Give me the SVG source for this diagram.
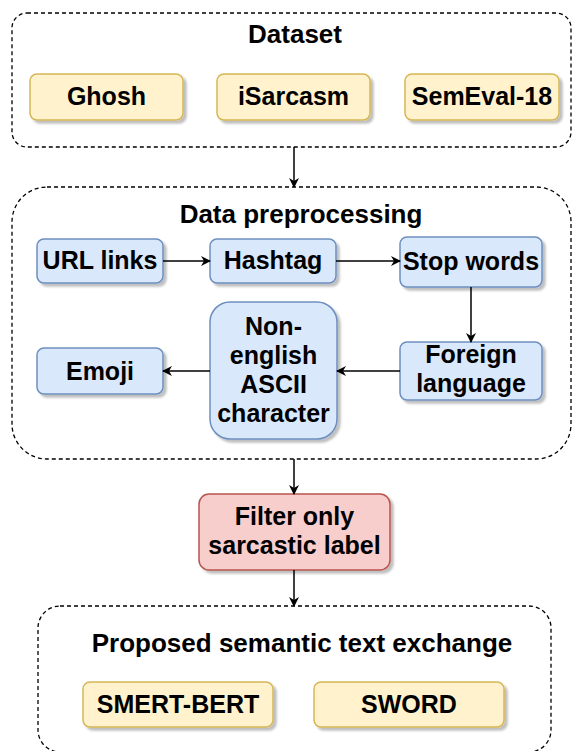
<svg xmlns="http://www.w3.org/2000/svg" width="573" height="751" viewBox="0 0 573 751">
  <style>
    .grp { fill: none; stroke: #000; stroke-width: 1.3; stroke-dasharray: 4 3; }
    .yel { fill: #fff2cc; stroke: #d6b656; stroke-width: 1.5; filter: url(#sh); }
    .blu { fill: #dae8fc; stroke: #6c8ebf; stroke-width: 1.5; filter: url(#sh); }
    .red { fill: #f8cecc; stroke: #b85450; stroke-width: 1.5; filter: url(#sh); }
    text { font-family: "Liberation Sans", Arial, Helvetica, sans-serif; font-weight: bold; fill: #000; text-anchor: middle; }
    .t { font-size: 25px; }
    .h { font-size: 26px; }
    .edge { fill: none; stroke: #000; stroke-width: 1.5; marker-end: url(#arr); }
  </style>
  <defs>
    <filter id="sh" x="-10%" y="-10%" width="130%" height="140%">
      <feDropShadow dx="3" dy="3" stdDeviation="1.2" flood-color="#000" flood-opacity="0.25"/>
    </filter>
    <marker id="arr" viewBox="0 0 10 10" refX="9" refY="5" markerWidth="10" markerHeight="10" markerUnits="userSpaceOnUse" orient="auto">
      <path d="M0,0 L10,5 L0,10 L3,5 Z" fill="#000"/>
    </marker>
  </defs>

  <g id="dataset">
    <rect class="grp" x="12" y="13" width="559" height="134" rx="15"/>
    <text class="h" x="295" y="43">Dataset</text>
  </g>
  <g id="ghosh">
    <rect class="yel" x="30" y="74" width="153" height="46" rx="7"/>
    <text class="t" x="106.5" y="105">Ghosh</text>
  </g>
  <g id="isarcasm">
    <rect class="yel" x="217" y="74" width="153" height="46" rx="7"/>
    <text class="t" x="293.5" y="105">iSarcasm</text>
  </g>
  <g id="semeval">
    <rect class="yel" x="405" y="74" width="154" height="46" rx="7"/>
    <text class="t" x="482" y="105">SemEval-18</text>
  </g>

  <g id="preprocessing">
    <rect class="grp" x="12" y="187" width="559" height="272" rx="35"/>
    <text class="h" x="301" y="223">Data preprocessing</text>
  </g>
  <g id="url">
    <rect class="blu" x="37" y="239" width="126" height="44" rx="7"/>
    <text class="t" x="100" y="269">URL links</text>
  </g>
  <g id="hashtag">
    <rect class="blu" x="210" y="239" width="126" height="44" rx="7"/>
    <text class="t" x="273" y="269">Hashtag</text>
  </g>
  <g id="stopwords">
    <rect class="blu" x="400" y="237" width="142" height="50" rx="7"/>
    <text class="t" x="471" y="270">Stop words</text>
  </g>
  <g id="foreign">
    <rect class="blu" x="400" y="342" width="142" height="58" rx="7"/>
    <text class="t" x="471" y="363">Foreign</text>
    <text class="t" x="471" y="392">language</text>
  </g>
  <g id="nonenglish">
    <rect class="blu" x="210" y="302" width="127" height="137" rx="20"/>
    <text class="t" x="273.5" y="335">Non-</text>
    <text class="t" x="273.5" y="364">english</text>
    <text class="t" x="273.5" y="393">ASCII</text>
    <text class="t" x="273.5" y="422">character</text>
  </g>
  <g id="emoji">
    <rect class="blu" x="37" y="348" width="126" height="46" rx="7"/>
    <text class="t" x="100" y="380">Emoji</text>
  </g>

  <g id="filter">
    <rect class="red" x="199" y="494" width="191" height="76" rx="10"/>
    <text class="t" x="294.5" y="525">Filter only</text>
    <text class="t" x="294.5" y="554">sarcastic label</text>
  </g>

  <g id="proposed">
    <rect class="grp" x="38" y="606" width="513" height="146" rx="22"/>
    <text class="h" x="302" y="652">Proposed semantic text exchange</text>
  </g>
  <g id="smertbert">
    <rect class="yel" x="83" y="682" width="190" height="45" rx="7"/>
    <text class="t" x="178" y="713">SMERT-BERT</text>
  </g>
  <g id="sword">
    <rect class="yel" x="314" y="682" width="190" height="45" rx="7"/>
    <text class="t" x="409" y="713">SWORD</text>
  </g>

  <g id="connectors">
    <path class="edge" d="M294,147 L294,187"/>
    <path class="edge" d="M163,261 L210,261"/>
    <path class="edge" d="M336,261 L400,261"/>
    <path class="edge" d="M471,287 L471,342"/>
    <path class="edge" d="M400,371 L337,371"/>
    <path class="edge" d="M210,371 L163,371"/>
    <path class="edge" d="M294,459 L294,494"/>
    <path class="edge" d="M294,570 L294,606"/>
  </g>
</svg>
